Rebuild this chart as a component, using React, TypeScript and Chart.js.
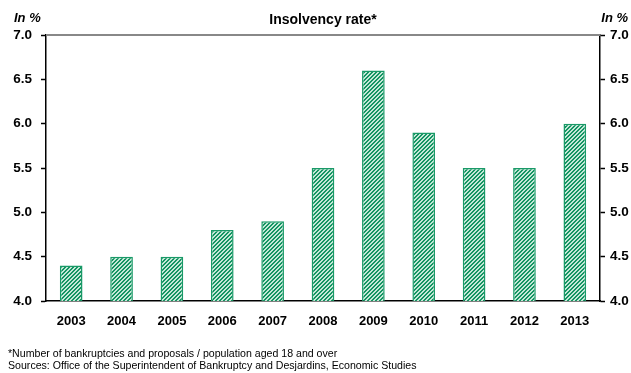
import React, { useEffect, useRef } from "react";
import { Chart, registerables } from "chart.js";

Chart.register(...registerables);

const years = ["2003", "2004", "2005", "2006", "2007", "2008", "2009", "2010", "2011", "2012", "2013"];
const insolvencyRate = [4.4, 4.5, 4.5, 4.8, 4.9, 5.5, 6.6, 5.9, 5.5, 5.5, 6.0];
const chartTitle = "Insolvency rate*";
const unitLabel = "In %";
const footnotes = [
  "*Number of bankruptcies and proposals / population aged 18 and over",
  "Sources: Office of the Superintendent of Bankruptcy and Desjardins, Economic Studies",
];

const GREEN = "#1a9a68";
const FONT = "'Liberation Sans', Arial, sans-serif";

function makePattern(): CanvasPattern | string {
  const c = document.createElement("canvas");
  c.width = 4;
  c.height = 4;
  const g = c.getContext("2d");
  if (!g) return GREEN;
  g.fillStyle = "#c4e8d7";
  g.fillRect(0, 0, 4, 4);
  g.fillStyle = "#149462";
  for (let i = 0; i < 4; i++) {
    g.fillRect(3 - i, i, 1, 1);
    g.fillRect((4 - i) % 4, i, 1, 1);
  }
  const p = g.createPattern(c, "repeat");
  return p || GREEN;
}

const textPlugin = {
  id: "textPlugin",
  beforeDatasetsDraw(chart: any) {
    const { ctx, chartArea } = chart;
    const y = chart.scales.y.getPixelForValue(7);
    ctx.save();
    ctx.strokeStyle = "#888888";
    ctx.lineWidth = 2;
    ctx.beginPath();
    ctx.moveTo(chartArea.left, y);
    ctx.lineTo(chartArea.right, y);
    ctx.stroke();
    ctx.restore();
  },
  afterDraw(chart: any) {
    const { ctx } = chart;
    ctx.save();
    ctx.fillStyle = "#000";
    ctx.textBaseline = "middle";
    ctx.font = `bold 14px ${FONT}`;
    ctx.textAlign = "center";
    ctx.fillText(chartTitle, 323, 20);
    ctx.font = `italic bold 13px ${FONT}`;
    ctx.textAlign = "left";
    ctx.fillText(unitLabel, 14, 18);
    ctx.textAlign = "right";
    ctx.fillText(unitLabel, 628, 18);
    ctx.font = `10.6px ${FONT}`;
    ctx.textAlign = "left";
    ctx.fillText(footnotes[0], 8, 354);
    ctx.fillText(footnotes[1], 8, 366);
    ctx.restore();
  },
};

export default function App() {
  const ref = useRef<HTMLCanvasElement | null>(null);
  useEffect(() => {
    if (!ref.current) return;
    const pattern = makePattern();
    const tickFont = { family: FONT, size: 13.5, weight: "bold" as const };
    const fmt = (v: any) => Number(v).toFixed(1);
    const chart = new Chart(ref.current, {
      type: "bar",
      data: {
        labels: years,
        datasets: [
          {
            data: insolvencyRate,
            backgroundColor: pattern as any,
            borderColor: GREEN,
            borderWidth: 1.5,
            categoryPercentage: 1,
            barPercentage: 0.45,
          },
        ],
      },
      options: {
        animation: false,
        responsive: false,
        maintainAspectRatio: false,
        layout: { padding: { top: 35, left: 0, right: 0, bottom: 0 } },
        plugins: { legend: { display: false }, title: { display: false }, tooltip: { enabled: false } },
        scales: {
          x: {
            grid: { display: false },
            border: { color: "#000", width: 1.5 },
            ticks: {
              color: "#000",
              font: { family: FONT, size: 13, weight: "bold" },
              padding: 5,
              maxRotation: 0,
            },
            afterFit: (s: any) => {
              s.height = 72;
            },
          },
          y: {
            position: "left",
            min: 4,
            max: 7,
            ticks: { color: "#000", font: tickFont, padding: 9, stepSize: 0.5, callback: fmt },
            grid: {
              drawOnChartArea: false,
              color: "#000",
              tickColor: "#000",
              tickLength: 5,
              tickWidth: 1.5,
            },
            border: { color: "#000", width: 1.5 },
            afterFit: (s: any) => {
              s.width = 46;
            },
          },
          y2: {
            position: "right",
            min: 4,
            max: 7,
            ticks: { color: "#000", font: tickFont, padding: 5, stepSize: 0.5, callback: fmt },
            grid: { drawOnChartArea: false, tickColor: "#000", tickLength: 5, tickWidth: 1.5, color: "#000" },
            border: { color: "#000", width: 1.5 },
            afterFit: (s: any) => {
              s.width = 31;
            },
          },
        },
      } as any,
      plugins: [textPlugin],
    });
    return () => chart.destroy();
  }, []);
  return (
    <div style={{ position: "absolute", left: 0, top: 0, width: 631, height: 373, background: "#fff" }}>
      <canvas ref={ref} width={631} height={373} style={{ display: "block", width: 631, height: 373 }} />
    </div>
  );
}
